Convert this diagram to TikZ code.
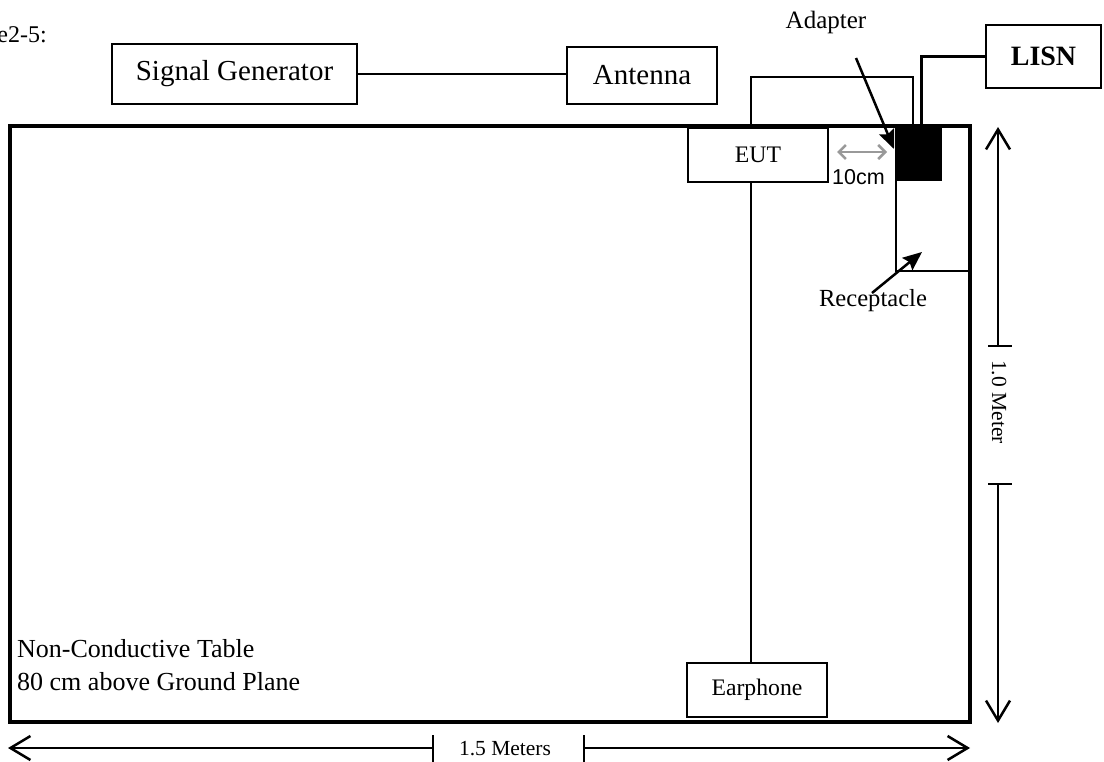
\documentclass[tikz,border=0pt]{standalone}
\usepackage{fontspec}
\setmainfont{Liberation Serif}
\newfontfamily\arialfont{Liberation Sans}
\usetikzlibrary{arrows.meta,calc}
\begin{document}
\begin{tikzpicture}[x=1pt,y=-1pt,
  box/.style={draw, line width=1.5pt, inner sep=0pt, anchor=center},
  wire/.style={line width=1.5pt},
  thickwire/.style={line width=3pt},
  dimarrow/.style={line width=1.5pt, -{Straight Barb[length=20pt,width=24pt,line width=2.5pt]}},
  tick/.style={line width=2pt},
  ptr/.style={line width=2.5pt, -{Stealth[length=19pt,width=16pt,inset=3pt]}},
  grayarrow/.style={line width=2.5pt, draw=black!40, {Straight Barb[length=7pt,width=14pt]}-{Straight Barb[length=7pt,width=14pt]}},
  fbig/.style={font=\fontsize{29}{33}\selectfont},
  fmid/.style={font=\fontsize{26}{33}\selectfont},
  fsmall/.style={font=\fontsize{23.7}{27}\selectfont},
  flabel/.style={font=\fontsize{25}{29}\selectfont},
  fdim/.style={font=\fontsize{21.5}{25}\selectfont}
]
\useasboundingbox (0,0) rectangle (1104,762);
\clip (0,0) rectangle (1104,762);

% caption fragment
\node[font=\fontsize{24}{28}\selectfont, anchor=base east, inner sep=0pt] (cap) at (47,43) {e2-5:};

% top row
\node[box, fbig, minimum width=245pt, minimum height=60pt] (sg) at (234.5,74) {Signal Generator};
\node[box, fbig, minimum width=150pt, minimum height=57pt] (ant) at (642,75.5) {Antenna};
\node[box, font=\fontsize{28}{32}\selectfont\bfseries, minimum width=115pt, minimum height=63pt] (lisn) at (1043.5,56.5) {LISN};
\draw[wire] (sg.east) -- (sg.east -| ant.west);

% table
\node[box, line width=3.5pt, minimum width=960pt, minimum height=596pt] (table) at (490,424) {};

% receptacle and adapter
\node[box, minimum width=73pt, minimum height=145pt] (rec) at (932.5,198.5) {};
\node[fill=black, inner sep=0pt, minimum width=45pt, minimum height=55pt] (adp) at (919.5,153.5) {};

% EUT and earphone
\node[box, fill=white, fsmall, minimum width=140pt, minimum height=54pt] (eut) at (758,155) {EUT};
\node[box, fsmall, minimum width=140pt, minimum height=54pt] (ear) at (757,690) {Earphone};

% cables
\coordinate (l1) at (751,77);
\coordinate (l2) at (913,77);
\draw[wire] (eut.north -| l1) -- (l1) -- (l2) -- (l2 |- adp.north);
\coordinate (lc) at (921,59);
\draw[thickwire] (adp.north -| lc) |- (lisn.west);
\draw[wire] (eut.south -| l1) -- (ear.north -| l1);

% 10cm spacing
\coordinate (g1) at (837,152);
\coordinate (g2) at (887,152);
\draw[grayarrow] (g1) -- (g2);
\node[font=\arialfont\fontsize{21.5}{25}\selectfont, inner sep=0pt] (tencm) at (858.5,177.5) {10cm};

% labels with pointers
\node[flabel, anchor=base, inner sep=0pt] (adlabel) at (826,29) {Adapter};
\coordinate (a0) at (856,58);
\coordinate (a1) at (894,149);
\draw[ptr] (a0) -- (a1);
\node[font=\fontsize{24.6}{28}\selectfont, anchor=base, inner sep=0pt] (reclabel) at (873,307) {Receptacle};
\coordinate (r0) at (872,293);
\coordinate (r1) at (922,252);
\draw[ptr] (r0) -- (r1);

% table text
\node[fmid, anchor=base west, inner sep=0pt] (t1) at (17,657) {Non-Conductive Table};
\node[fmid, anchor=base west, inner sep=0pt] (t2) at (17,690) {80 cm above Ground Plane};

% 1.5 m dimension
\coordinate (bl) at (8,748);
\coordinate (br) at (970,748);
\coordinate (bt1) at (433,748);
\coordinate (bt2) at (584,748);
\draw[dimarrow] (bt1) -- (bl);
\draw[dimarrow] (bt2) -- (br);
\draw[tick] ($(bt1)+(0,-13)$) -- ($(bt1)+(0,14)$);
\draw[tick] ($(bt2)+(0,-13)$) -- ($(bt2)+(0,14)$);
\node[fdim, anchor=base, inner sep=0pt] (w15) at (505,755) {1.5 Meters};

% 1.0 m dimension
\coordinate (vt) at (998,127);
\coordinate (vb) at (998,723);
\coordinate (vt1) at (998,346);
\coordinate (vt2) at (998,484);
\draw[dimarrow] (vt1) -- (vt);
\draw[dimarrow] (vt2) -- (vb);
\draw[tick] ($(vt1)+(-10,0)$) -- ($(vt1)+(14,0)$);
\draw[tick] ($(vt2)+(-10,0)$) -- ($(vt2)+(14,0)$);
\node[fdim, rotate=-90, inner sep=0pt] (h10) at (999,402) {1.0 Meter};
\end{tikzpicture}
\end{document}
